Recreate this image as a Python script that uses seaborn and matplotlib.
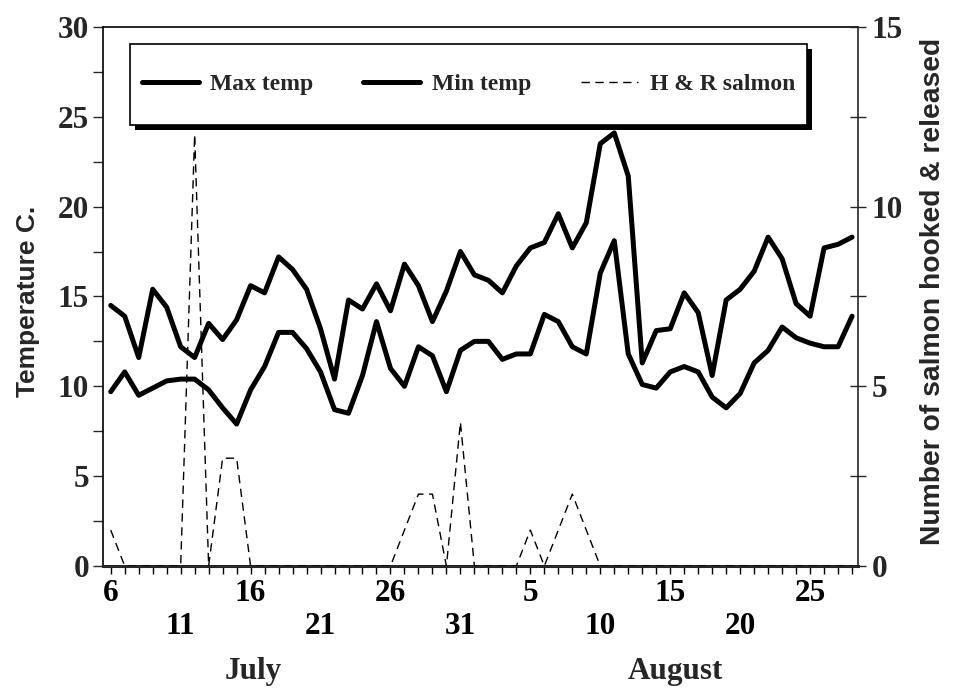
import numpy as np
import pandas as pd
import seaborn as sns
import matplotlib.pyplot as plt
import matplotlib.transforms as mtransforms
from matplotlib.patches import Rectangle

# daily records from 6 July to 28 August
day_of_month = [6, 7, 8, 9, 10, 11, 12, 13, 14, 15, 16, 17, 18, 19, 20, 21, 22, 23,
                24, 25, 26, 27, 28, 29, 30, 31,
                1, 2, 3, 4, 5, 6, 7, 8, 9, 10, 11, 12, 13, 14, 15, 16, 17, 18, 19, 20,
                21, 22, 23, 24, 25, 26, 27, 28]

max_temp = [14.5, 13.9, 11.6, 15.4, 14.4, 12.2, 11.6, 13.5, 12.6, 13.7,
            15.6, 15.2, 17.2, 16.5, 15.4, 13.2, 10.4, 14.8, 14.3, 15.7,
            14.2, 16.8, 15.6, 13.6, 15.3, 17.5, 16.2, 15.9, 15.2, 16.7,
            17.7, 18.0, 19.6, 17.7, 19.1, 23.5, 24.1, 21.7, 11.3, 13.1,
            13.2, 15.2, 14.1, 10.6, 14.8, 15.4, 16.4, 18.3, 17.1, 14.6,
            13.9, 17.7, 17.9, 18.3]

min_temp = [9.7, 10.8, 9.5, 9.9, 10.3, 10.4, 10.4, 9.8, 8.8, 7.9,
            9.8, 11.1, 13.0, 13.0, 12.1, 10.8, 8.7, 8.5, 10.6, 13.6,
            11.0, 10.0, 12.2, 11.7, 9.7, 12.0, 12.5, 12.5, 11.5, 11.8,
            11.8, 14.0, 13.6, 12.2, 11.8, 16.3, 18.1, 11.8, 10.1, 9.9,
            10.8, 11.1, 10.8, 9.4, 8.8, 9.6, 11.3, 12.0, 13.3, 12.7,
            12.4, 12.2, 12.2, 13.9]

salmon = [1, 0, 0, 0, 0, 0, 12, 0, 3, 3,
          0, 0, 0, 0, 0, 0, 0, 0, 0, 0,
          0, 1, 2, 2, 0, 4, 0, 0, 0, 0,
          1, 0, 1, 2, 1, 0, 0, 0, 0, 0,
          0, 0, 0, 0, 0, 0, 0, 0, 0, 0,
          0, 0, 0, 0]

series_names = ["Max temp", "Min temp", "H & R salmon"]

df = pd.DataFrame({"day": np.arange(len(max_temp)), "max": max_temp,
                   "min": min_temp, "salmon": salmon})

sns.set_style("ticks")
serif = "Liberation Serif"
sans = "Liberation Sans"
tick_fs = 22.5

fig = plt.figure(figsize=(9.54, 6.89), dpi=100)
ax = fig.add_axes([0.108, 0.1785, 0.791, 0.7825])

sns.lineplot(data=df, x="day", y="max", ax=ax, color="black", lw=3.6)
sns.lineplot(data=df, x="day", y="min", ax=ax, color="black", lw=3.6)

ax2 = ax.twinx()
sns.lineplot(data=df, x="day", y="salmon", ax=ax2, color="black", lw=1.0,
             linestyle=(0, (6, 4)))

ax.set_xlim(-0.55, 53.4)
ax.set_ylim(0, 30)
ax2.set_ylim(0, 15)

# x ticks: one per day, labels every 5 days on two rows
xlabels = []
for i, d in enumerate(day_of_month):
    if i % 10 == 0:
        xlabels.append(str(d))
    elif i % 5 == 0:
        xlabels.append("\n" + str(d))
    else:
        xlabels.append("")
ax.set_xticks(df["day"])
ax.set_xticklabels(xlabels, fontfamily=serif, fontweight="bold", fontsize=tick_fs,
                   linespacing=1.2)
ax.tick_params(axis="x", direction="out", length=6, width=1, pad=3, colors="black")

yt = np.arange(0, 30.1, 2.5)
ax.set_yticks(yt)
ax.set_yticklabels([str(int(v)) if v % 5 == 0 else "" for v in yt],
                   fontfamily=serif, fontweight="bold", fontsize=tick_fs)
ax.tick_params(axis="y", direction="out", length=7, width=1, pad=3)

yt2 = np.arange(0, 15.1, 2.5)
ax2.set_yticks(yt2)
ax2.set_yticklabels([str(int(v)) if v % 5 == 0 else "" for v in yt2],
                    fontfamily=serif, fontweight="bold", fontsize=tick_fs)
ax2.tick_params(axis="y", direction="inout", length=12, width=1, pad=4)

ax.set_xlabel("")
ax.set_ylabel("Temperature C.", fontfamily=sans, fontweight="bold", fontsize=19)
ax.yaxis.set_label_coords(-0.083, 0.49)
ax2.set_ylabel("Number of salmon hooked & released", fontfamily=sans,
               fontweight="bold", fontsize=20.3)
ax2.yaxis.set_label_coords(1.083, 0.51)

for s in ["left", "top", "right"]:
    ax.spines[s].set_linewidth(1.2)
    ax.spines[s].set_color("black")
ax.spines["bottom"].set_linewidth(2.2)
ax.spines["right"].set_visible(False)
for s in ["left", "top", "bottom"]:
    ax2.spines[s].set_visible(False)
ax2.spines["right"].set_linewidth(1.2)

# month names under the day numbers
trans = mtransforms.blended_transform_factory(ax.transData, ax.transAxes)
ax.text(10.2, -0.195, "July", transform=trans, ha="center", va="center",
        fontfamily=serif, fontweight="bold", fontsize=tick_fs)
ax.text(40.4, -0.195, "August", transform=trans, ha="center", va="center",
        fontfamily=serif, fontweight="bold", fontsize=tick_fs)

# legend box with a solid drop shadow
box = (0.0358, 0.818, 0.8967, 0.1505)
ax2.add_patch(Rectangle((box[0] + 0.0066, box[1] - 0.0093), box[2], box[3],
                        transform=ax2.transAxes, facecolor="black",
                        edgecolor="none", clip_on=False, zorder=4))
ax2.add_patch(Rectangle((box[0], box[1]), box[2], box[3],
                        transform=ax2.transAxes, facecolor="white",
                        edgecolor="black", lw=1.2, clip_on=False, zorder=4.5))

handles = [ax.get_lines()[0], ax.get_lines()[1], ax2.get_lines()[0]]
leg = ax2.legend(handles, series_names, loc="center left",
                 bbox_to_anchor=box, mode="expand",
                 borderaxespad=0, ncol=3, frameon=False,
                 handlelength=2.4, handletextpad=0.5, borderpad=0.5,
                 prop={"family": serif, "weight": "bold", "size": 17})
leg.set_zorder(5)

fig.savefig("out.png", dpi=100)
